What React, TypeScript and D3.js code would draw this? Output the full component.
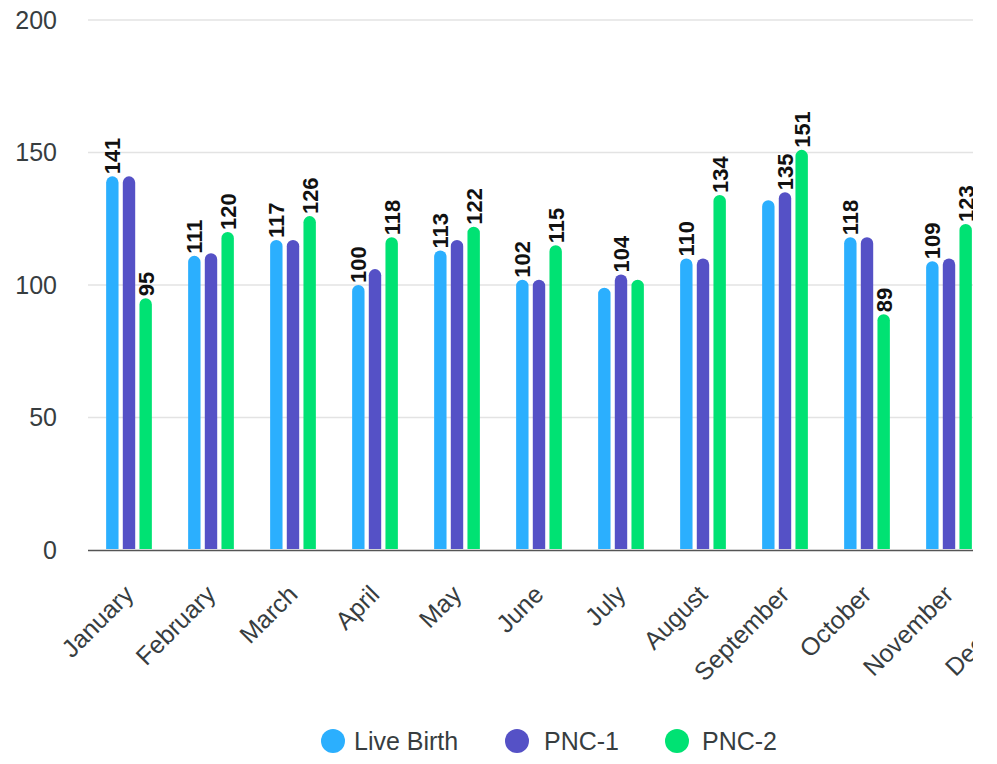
import React from "react";
import * as d3 from "d3";

const months = ["January","February","March","April","May","June","July","August","September","October","November","December"];
const seriesNames = ["Live Birth","PNC-1","PNC-2"];
const liveBirth = [141,111,117,100,113,102,99,110,132,118,109,112];
const pnc1 = [141,112,117,106,117,102,104,110,135,118,110,113];
const pnc2 = [95,120,126,118,122,115,102,134,151,89,123,118];
// which value labels survive the label-collision hiding in the reference
const showLiveBirth = [1,1,1,1,1,1,0,1,0,1,1,1];
const showPnc1 = [0,0,0,0,0,0,1,0,1,0,0,0];
const showPnc2 = [1,1,1,1,1,1,0,1,1,1,1,1];
const yTicks = [0,50,100,150,200];
const colors = ["#2BAFFE","#5551C6","#00E273"];

const W = 973, H = 764;
const plotLeft = 88, plotTop = 20, plotBottom = 550;
const step = 82;

export default function App() {
  const values = [liveBirth, pnc1, pnc2];
  const shows = [showLiveBirth, showPnc1, showPnc2];
  const x = d3.scaleBand<string>().domain(months).range([plotLeft, plotLeft + step * months.length]).paddingInner(0).paddingOuter(0);
  const y = d3.scaleLinear().domain([0, 200]).range([plotBottom, plotTop]);
  const groupW = 50;
  const xs = d3.scaleBand<string>().domain(seriesNames).range([0, groupW]);
  const barW = 12.4;
  const font = "Liberation Sans, Arial, Helvetica, sans-serif";

  const barPath = (cx: number, top: number, bottom: number) => {
    const r = barW / 2;
    const x0 = cx - barW / 2, x1 = cx + barW / 2;
    const p = d3.path();
    p.moveTo(x0, bottom);
    p.lineTo(x0, top + r);
    p.arc(cx, top + r, r, Math.PI, 0, false);
    p.lineTo(x1, bottom);
    p.closePath();
    return p.toString();
  };

  const legendItems = [
    { name: seriesNames[0], cx: 333, tx: 354 },
    { name: seriesNames[1], cx: 517, tx: 544 },
    { name: seriesNames[2], cx: 677, tx: 702 },
  ];

  return (
    <svg width={W} height={H} style={{ position: "absolute", left: 0, top: 0, background: "#fff" }} fontFamily={font}>
      {yTicks.map((t) => (
        <g key={t}>
          {t > 0 && <line x1={plotLeft} x2={W} y1={y(t)} y2={y(t)} stroke="#e3e3e3" strokeWidth={1.5} />}
          <text x={57} y={y(t)} dy="0.35em" textAnchor="end" fontSize={25} fill="#373d3f">{t}</text>
        </g>
      ))}
      <line x1={plotLeft} x2={W} y1={plotBottom + 0.5} y2={plotBottom + 0.5} stroke="#555" strokeWidth={1.5} />
      {months.map((m, i) => {
        const g0 = (x(m) as number) + x.bandwidth() / 2 - groupW / 2;
        return (
          <g key={m}>
            {seriesNames.map((s, k) => {
              const cx = g0 + (xs(s) as number) + xs.bandwidth() / 2;
              const v = values[k][i];
              return <path key={s} d={barPath(cx, y(v), plotBottom - 1)} fill={colors[k]} />;
            })}
            {seriesNames.map((s, k) => {
              if (!shows[k][i]) return null;
              const cx = g0 + (xs(s) as number) + xs.bandwidth() / 2;
              const v = values[k][i];
              return (
                <text key={s} transform={`translate(${cx},${y(v) - 2}) rotate(-90)`} dy="0.36em" textAnchor="start" fontSize={22} fontWeight="bold" fill="#111">{v}</text>
              );
            })}
            <text transform={`translate(${(x(m) as number) + x.bandwidth() / 2 + 6},${596}) rotate(-45)`} textAnchor="end" fontSize={25} fill="#373d3f">{m}</text>
          </g>
        );
      })}
      {legendItems.map((l, k) => (
        <g key={l.name}>
          <circle cx={l.cx} cy={741} r={12} fill={colors[k]} />
          <text x={l.tx} y={741} dy="0.35em" fontSize={25} fill="#373d3f">{l.name}</text>
        </g>
      ))}
    </svg>
  );
}
